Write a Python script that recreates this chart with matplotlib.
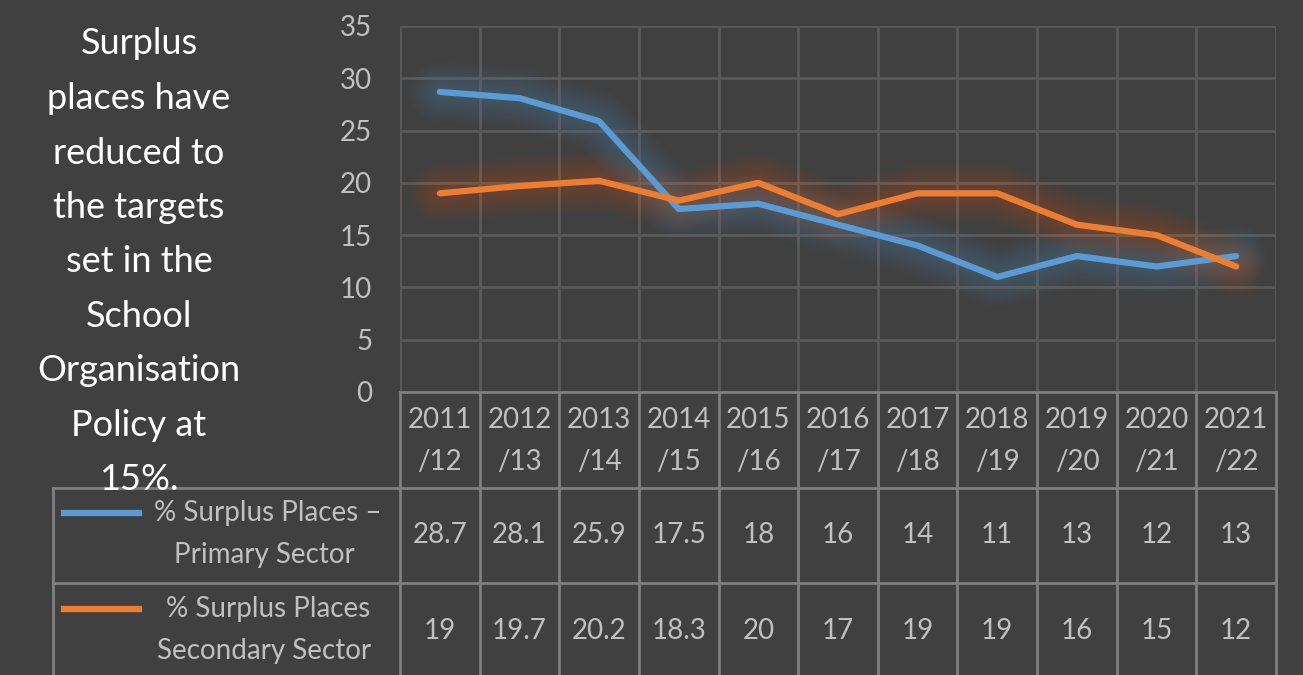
import matplotlib
matplotlib.use("Agg")
import matplotlib.pyplot as plt
from matplotlib.lines import Line2D
import numpy as np

years_top = ["2011", "2012", "2013", "2014", "2015", "2016", "2017", "2018", "2019", "2020", "2021"]
years_bot = ["/12", "/13", "/14", "/15", "/16", "/17", "/18", "/19", "/20", "/21", "/22"]
primary = [28.7, 28.1, 25.9, 17.5, 18, 16, 14, 11, 13, 12, 13]
secondary = [19, 19.7, 20.2, 18.3, 20, 17, 19, 19, 16, 15, 12]
primary_labels = ["28.7", "28.1", "25.9", "17.5", "18", "16", "14", "11", "13", "12", "13"]
secondary_labels = ["19", "19.7", "20.2", "18.3", "20", "17", "19", "19", "16", "15", "12"]
series_names = [["% Surplus Places \u2013", "Primary Sector"], ["% Surplus Places", "Secondary Sector"]]
yticks = [0, 5, 10, 15, 20, 25, 30, 35]
side_text = ["Surplus", "places have", "reduced to", "the targets", "set in the", "School",
             "Organisation", "Policy at", "15%."]

BG = "#404040"
GRID = "#595959"
TABLE = "#7f7f7f"
TXT = "#c0c0c0"
BLUE = "#5B9BD5"
ORANGE = "#ED7D31"
FONT = "Lato"

W, H = 1303, 675
fig = plt.figure(figsize=(W / 100, H / 100), dpi=100, facecolor=BG)

def fx(x):
    return x / W

def fy(y):
    return 1 - y / H

ax_l, ax_r, ax_t, ax_b = 400, 1276, 26, 392
ax = fig.add_axes([fx(ax_l), fy(ax_b), fx(ax_r) - fx(ax_l), fy(ax_t) - fy(ax_b)])
ax.set_facecolor(BG)
n = len(primary)
ax.set_xlim(-0.5, n - 0.5)
ax.set_ylim(0, 35)
for s in ax.spines.values():
    s.set_visible(False)

# gridlines
ax.hlines(yticks[1:], -0.5, n - 0.5, color=GRID, lw=2, zorder=1)
ax.vlines(np.arange(n + 1) - 0.5, 0, 35, color=GRID, lw=2, zorder=1)

tsize = 20
ax.set_xticks([])
ax.set_yticks(yticks)
ax.set_yticklabels([str(t) for t in yticks])
ax.tick_params(axis="y", length=0, pad=20, labelsize=tsize, labelcolor=TXT)
for lab in ax.get_yticklabels():
    lab.set_fontfamily(FONT)

x = np.arange(n)
for vals, col in [(primary, BLUE), (secondary, ORANGE)]:
    for lw in np.arange(44, 6, -2.0):
        ax.plot(x, vals, color=col, lw=lw, alpha=0.015, solid_capstyle="round",
                solid_joinstyle="round", zorder=2)
for vals, col in [(primary, BLUE), (secondary, ORANGE)]:
    ax.plot(x, vals, color=col, lw=4.5, solid_capstyle="round", solid_joinstyle="round", zorder=3)

# table
colw = (ax_r - ax_l) / n
row_h = [392, 488, 583, 678]
leg_l = 53

def fline(xs, ys, color=TABLE, lw=2, z=1):
    fig.add_artist(Line2D([fx(v) for v in xs], [fy(v) for v in ys], color=color, lw=lw,
                          transform=fig.transFigure, zorder=z))

# horizontal lines
fline([ax_l, ax_r], [row_h[0], row_h[0]])
fline([leg_l, ax_r], [row_h[1], row_h[1]])
fline([leg_l, ax_r], [row_h[2], row_h[2]])
# vertical lines
for k in range(n + 1):
    xx = ax_l + k * colw
    fline([xx, xx], [row_h[0], H + 5])
fline([leg_l, leg_l], [row_h[1], H + 5])

for i in range(n):
    cx = ax_l + (i + 0.5) * colw
    fig.text(fx(cx), fy(420), years_top[i], ha="center", va="center", color=TXT,
             fontsize=tsize, family=FONT)
    fig.text(fx(cx), fy(462), years_bot[i], ha="center", va="center", color=TXT,
             fontsize=tsize, family=FONT)
    fig.text(fx(cx), fy(535), primary_labels[i], ha="center", va="center", color=TXT,
             fontsize=tsize, family=FONT)
    fig.text(fx(cx), fy(631), secondary_labels[i], ha="center", va="center", color=TXT,
             fontsize=tsize, family=FONT)

for r, (names, col) in enumerate(zip(series_names, [BLUE, ORANGE])):
    ytop = 513 + r * 96
    fline([64, 139], [ytop, ytop], color=col, lw=4.5, z=3)
    fig.text(fx(268), fy(ytop), names[0], ha="center", va="center", color=TXT,
             fontsize=tsize, family=FONT)
    fig.text(fx(264), fy(ytop + 42), names[1], ha="center", va="center", color=TXT,
             fontsize=tsize, family=FONT)

# side text
for j, line in enumerate(side_text):
    fig.text(fx(139), fy(44 + j * 54.5), line, ha="center", va="center", color="white",
             fontsize=26, family=FONT, zorder=5)

fig.savefig("out.png", dpi=100, facecolor=BG)
